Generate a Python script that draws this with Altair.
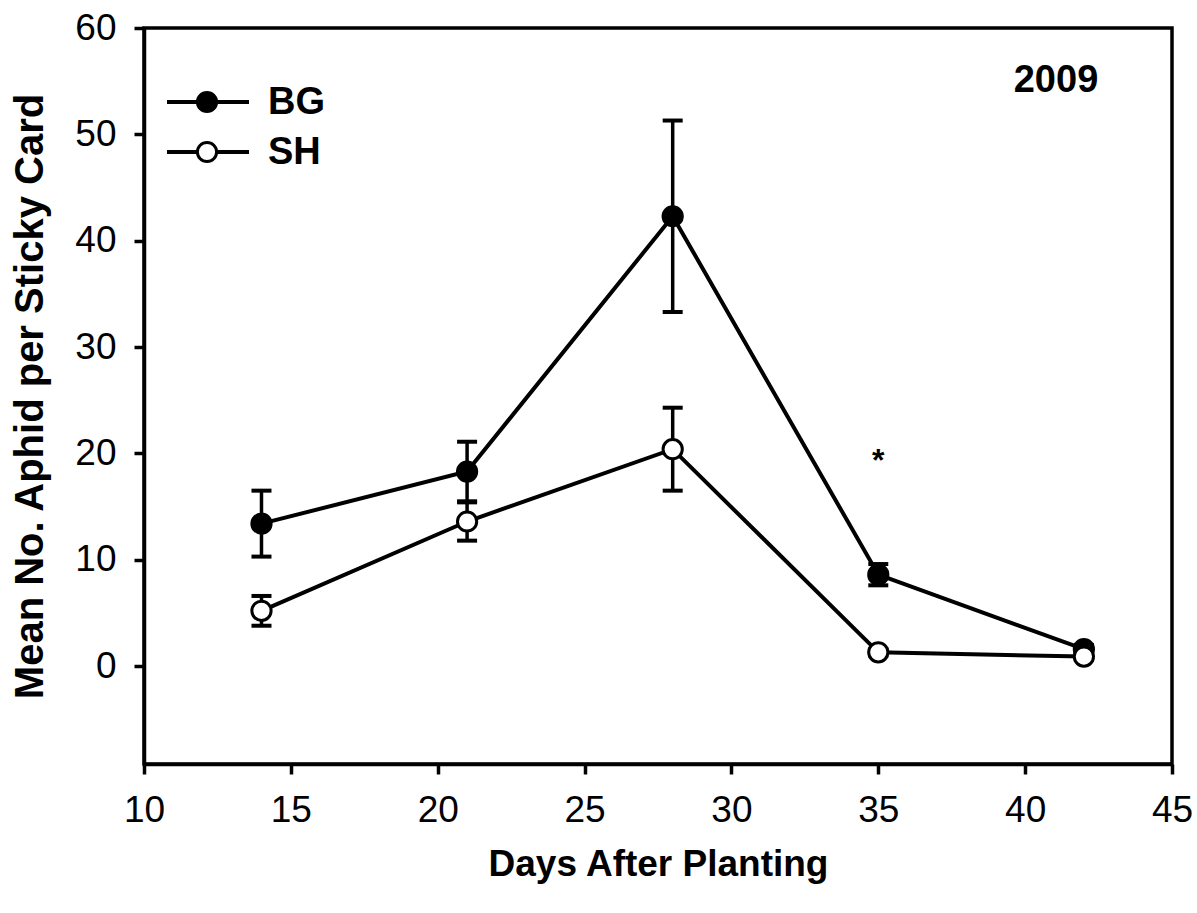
import altair as alt
import pandas as pd

days = [14, 21, 28, 35, 42]
bg_mean = [13.4, 18.3, 42.3, 8.6, 1.6]
bg_err = [3.1, 2.8, 9.0, 1.0, 0.4]
sh_mean = [5.2, 13.6, 20.4, 1.3, 0.9]
sh_err = [1.4, 1.8, 3.9, 0.3, 0.3]

rows = []
for d, m, e in zip(days, bg_mean, bg_err):
    rows.append({"day": d, "mean": m, "lo": m - e, "hi": m + e, "grp": "BG"})
for d, m, e in zip(days, sh_mean, sh_err):
    rows.append({"day": d, "mean": m, "lo": m - e, "hi": m + e, "grp": "SH"})
df = pd.DataFrame(rows)

star = pd.DataFrame({"day": [35], "y": [19.3], "t": ["*"]})

FONT = "Liberation Sans"
W, H = 1028, 736

xs = alt.Scale(domain=[10, 45], nice=False, zero=False)
ys = alt.Scale(domain=[-9.2, 60], nice=False, zero=False)

xax = alt.Axis(values=[10, 15, 20, 25, 30, 35, 40, 45], title="Days After Planting",
               labelPadding=18, titlePadding=18, titleFontSize=37, labelFlush=False)
yax = alt.Axis(values=[0, 10, 20, 30, 40, 50, 60], title="Mean No. Aphid per Sticky Card",
               labelPadding=18, titlePadding=24, titleFontSize=40, labelFlush=False)

base = alt.Chart(df)

err = base.mark_rule(color="black", strokeWidth=3.5, opacity=1).encode(
    x=alt.X("day:Q", scale=xs, axis=xax),
    y=alt.Y("lo:Q", scale=ys, axis=yax),
    y2="hi:Q",
)
cap_hi = base.mark_tick(color="black", thickness=4, size=20, orient="horizontal", opacity=1).encode(
    x=alt.X("day:Q", scale=xs), y=alt.Y("hi:Q", scale=ys))
cap_lo = base.mark_tick(color="black", thickness=4, size=20, orient="horizontal", opacity=1).encode(
    x=alt.X("day:Q", scale=xs), y=alt.Y("lo:Q", scale=ys))

lines = base.mark_line(color="black", strokeWidth=4).encode(
    x=alt.X("day:Q", scale=xs), y=alt.Y("mean:Q", scale=ys), detail="grp:N")

pts = base.mark_point(filled=True, size=370, stroke="black", strokeWidth=3, opacity=1).encode(
    x=alt.X("day:Q", scale=xs), y=alt.Y("mean:Q", scale=ys),
    fill=alt.Fill("grp:N", scale=alt.Scale(domain=["BG", "SH"], range=["black", "white"]), legend=None),
)

star_t = alt.Chart(star).mark_text(font=FONT, fontSize=32, fontWeight="bold", color="black",
                                   baseline="middle", align="center").encode(
    x=alt.X("day:Q", scale=xs), y=alt.Y("y:Q", scale=ys), text="t:N")

# legend (custom)
leg_names = ["BG", "SH"]
leg_fill = ["black", "white"]
leg_layers = []
for i, (nm, fc) in enumerate(zip(leg_names, leg_fill)):
    yy = 74 + i * 50
    src = alt.Chart(pd.DataFrame({"n": [nm]}))
    leg_layers.append(src.mark_rule(color="black", strokeWidth=4).encode(
        x=alt.value(23), x2=alt.value(105), y=alt.value(yy)))
    leg_layers.append(src.mark_point(filled=True, size=370, stroke="black", strokeWidth=3,
                                     fill=fc, opacity=1).encode(
        x=alt.value(63), y=alt.value(yy)))
    leg_layers.append(src.mark_text(font=FONT, fontSize=38, fontWeight="bold", color="black",
                                    align="left", baseline="middle").encode(
        x=alt.value(124), y=alt.value(yy + 1), text="n:N"))

year = alt.Chart(pd.DataFrame({"t": ["2009"]})).mark_text(
    font=FONT, fontSize=38, fontWeight="bold", color="black", align="center", baseline="middle"
).encode(x=alt.value(912), y=alt.value(53), text="t:N")

chart = alt.layer(err, cap_hi, cap_lo, lines, pts, star_t, *leg_layers, year).properties(
    width=W, height=H,
    autosize=alt.AutoSizeParams(type="none"),
    padding={"left": 144, "top": 28, "right": 25, "bottom": 149},
    background="white",
).configure_view(stroke="black", strokeWidth=3.5).configure_axis(
    grid=False, domain=True, domainColor="black", domainWidth=3.5,
    tickColor="black", tickWidth=3.5, tickSize=10, tickOpacity=1, domainOpacity=1,
    labelFont=FONT, labelFontSize=37, labelColor="black",
    titleFont=FONT, titleFontWeight="bold", titleColor="black",
)

chart.save("out.html", embed_options={"renderer": "svg", "actions": False})
